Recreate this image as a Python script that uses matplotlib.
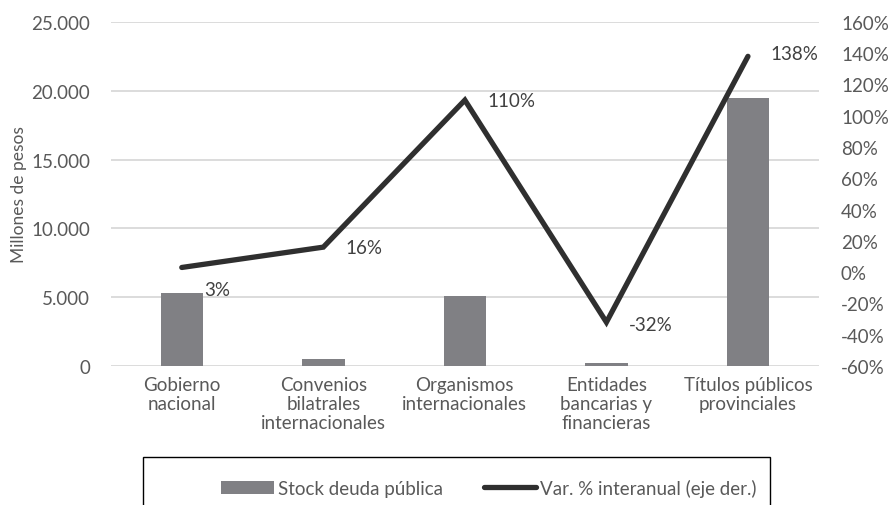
import numpy as np
import matplotlib
matplotlib.use("Agg")
import matplotlib.pyplot as plt
from matplotlib.ticker import FuncFormatter, MultipleLocator
from matplotlib.patches import Rectangle

categories = ["Gobierno\nnacional", "Convenios\nbilatrales\ninternacionales",
              "Organismos\ninternacionales", "Entidades\nbancarias y\nfinancieras",
              "Títulos públicos\nprovinciales"]
stock = [5300, 500, 5050, 200, 19500]
var_pct = [3, 16, 110, -32, 138]
var_labels = ["3%", "16%", "110%", "-32%", "138%"]

plt.rcParams['font.family'] = ['Lato', 'DejaVu Sans']
txt = "#595959"
fs = 13.5

fig = plt.figure(figsize=(8.88, 5.06), dpi=100)
ax = fig.add_axes([0.125, 0.2747, 0.797, 0.68])
ax2 = ax.twinx()

x = np.arange(len(categories))
bars = ax.bar(x, stock, width=0.3, color="#808084", zorder=2)
ax.set_ylim(0, 25000)
ax.set_xlim(-0.5, len(categories) - 0.5)
ax.yaxis.set_major_locator(MultipleLocator(5000))
ax.yaxis.set_major_formatter(FuncFormatter(lambda v, p: f"{int(v):,}".replace(",", ".")))
ax.grid(axis="y", color="#d9d9d9", lw=1.3, zorder=0)
ax.set_axisbelow(True)
ax.set_xticks(x)
ax.set_xticklabels(categories, fontsize=fs, color=txt, linespacing=1.15)
ax.tick_params(axis="x", length=0, pad=7)
ax.tick_params(axis="y", length=0, pad=15, labelsize=fs, labelcolor=txt)
ax.set_ylabel("Millones de pesos", fontsize=12.5, color=txt, labelpad=3)

line, = ax2.plot(x, var_pct, color="#2f2f2f", lw=3.8, solid_capstyle="round",
                 solid_joinstyle="miter", zorder=3)
ax2.set_ylim(-60, 160)
ax2.yaxis.set_major_locator(MultipleLocator(20))
ax2.yaxis.set_major_formatter(FuncFormatter(lambda v, p: f"{int(round(v))}%"))
ax2.tick_params(axis="y", length=0, pad=16, labelsize=fs, labelcolor=txt)

offsets = [(16, -16), (16, 0), (16, 0), (16, -2), (16, 2)]
for xi, yi, lab, off in zip(x, var_pct, var_labels, offsets):
    ax2.annotate(lab, (xi, yi), xytext=off, textcoords="offset points",
                 ha="left", va="center", fontsize=fs, color="#404040")

for a in (ax, ax2):
    for s in a.spines.values():
        s.set_visible(False)

# legend box (cut by the bottom edge, as in the original)
fig.patches.append(Rectangle((143 / 888, -0.05), 627 / 888, 0.05 + 48 / 506,
                             transform=fig.transFigure, fill=False,
                             edgecolor="black", lw=1.0))
leg = fig.legend(handles=[bars, line],
                 labels=["Stock deuda pública", "Var. % interanual (eje der.)"],
                 loc="center", bbox_to_anchor=(489 / 888, 1 - 489 / 506),
                 ncol=2, fontsize=fs, frameon=False,
                 handlelength=2.8, handletextpad=0.2, columnspacing=2.2)
for t in leg.get_texts():
    t.set_color(txt)

fig.savefig("out.png", dpi=100)
